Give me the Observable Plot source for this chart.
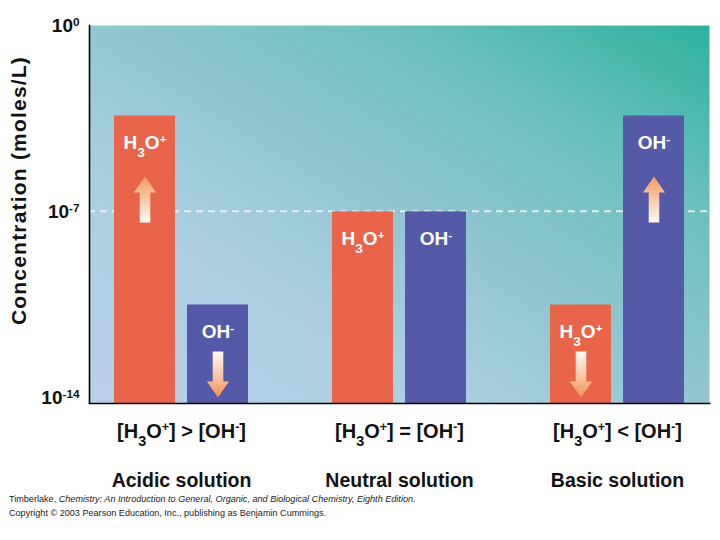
<!DOCTYPE html>
<html><head><meta charset="utf-8">
<script src="https://cdn.jsdelivr.net/npm/d3@7"></script>
<script src="https://cdn.jsdelivr.net/npm/@observablehq/plot@0.6"></script>
<style>
body{margin:0;background:#fff;}
#chart{width:720px;height:540px;position:relative;overflow:hidden;}
#chart svg{display:block;}
.foot{position:absolute;left:9px;font-family:"Liberation Sans",Arial,sans-serif;font-size:9.1px;line-height:11px;color:#1a1a1a;white-space:nowrap;}
</style></head><body>
<div id="chart"></div>
<script>
// ---- data ----
const solutions = ["Acidic solution", "Neutral solution", "Basic solution"];
const relations = ["[H₃O⁺] > [OH⁻]", "[H₃O⁺] = [OH⁻]", "[H₃O⁺] < [OH⁻]"];
const ions = ["H₃O⁺", "OH⁻"];
const h3oExponent = [-3.4, -7, -10.5];   // log10 of [H3O+] (moles/L)
const ohExponent = [-10.5, -7, -3.4];    // log10 of [OH-]  (moles/L)
const h3oArrow = ["up", null, "down"];
const ohArrow = ["down", null, "up"];
const yTicks = [1, 1e-7, 1e-14];
const yTickLabels = ["10⁰", "10⁻⁷", "10⁻¹⁴"];
const neutralLevel = 1e-7;
const yTitle = "Concentration (moles/L)";

const bars = solutions.flatMap((s, i) => [
  {solution: s, ion: ions[0], value: 10 ** h3oExponent[i], arrow: h3oArrow[i]},
  {solution: s, ion: ions[1], value: 10 ** ohExponent[i], arrow: ohArrow[i]}
]);

const yDomain = [10 ** -14.2, 1];
const FONT = "'Liberation Sans', Arial, Helvetica, sans-serif";

function arrowSymbol(dir) {
  const s = dir === "up" ? 1 : -1;
  return {
    draw(ctx, size) {
      const r = Math.sqrt(size / Math.PI);
      const hw = r * 0.48, sw = r * 0.23, hb = (-r + r * 0.7) * s;
      ctx.moveTo(0, -r * s);
      ctx.lineTo(hw, hb);
      ctx.lineTo(sw, hb);
      ctx.lineTo(sw, r * s);
      ctx.lineTo(-sw, r * s);
      ctx.lineTo(-sw, hb);
      ctx.lineTo(-hw, hb);
      ctx.closePath();
    }
  };
}

const chart = Plot.plot({
  width: 720,
  height: 492,
  marginTop: 25,
  marginLeft: 88,
  marginRight: 9,
  marginBottom: 89,
  fx: {domain: solutions, paddingInner: 0.155, paddingOuter: 0, axis: null},
  x: {domain: ions, paddingInner: 0.162, paddingOuter: 0.331, axis: null},
  y: {type: "log", domain: yDomain, axis: null},
  color: {domain: ions, range: ["#e8654b", "#5459a8"]},
  marks: [
    Plot.frame({fill: "url(#bgGrad)", facet: "super"}),
    Plot.barY(bars, {fx: "solution", x: "ion", y1: yDomain[0], y2: "value", fill: "ion"}),
    Plot.dot(bars.filter(d => d.arrow === "up"), {fx: "solution", x: "ion", y: "value", dy: 83.5, r: 23, symbol: arrowSymbol("up"), fill: "url(#upGrad)", stroke: "none"}),
    Plot.dot(bars.filter(d => d.arrow === "down"), {fx: "solution", x: "ion", y: "value", dy: 69.5, r: 23, symbol: arrowSymbol("down"), fill: "url(#downGrad)", stroke: "none"}),
    Plot.text(bars, {fx: "solution", x: "ion", y: "value", text: "ion", dy: 33, lineAnchor: "bottom", fill: "white", fontSize: 19, fontWeight: "bold", fontFamily: FONT}),
    Plot.frame({anchor: "left", stroke: "#000", strokeWidth: 1.6, facet: "super"}),
    Plot.frame({anchor: "bottom", stroke: "#000", strokeWidth: 1.6, facet: "super"}),
    Plot.text(yTicks, {fx: () => solutions[0], y: d => d, text: (d, i) => yTickLabels[i], frameAnchor: "left", dx: -10, textAnchor: "end", fontSize: 19, fontWeight: "bold", fill: "#111", fontFamily: FONT}),
    Plot.text([yTitle], {frameAnchor: "left", textAnchor: "middle", dx: -70, dy: -24, rotate: -90, fontSize: 21, fontWeight: "bold", fill: "#111", fontFamily: FONT, facet: "super", style: {letterSpacing: "1.2px"}}),
    Plot.text(solutions, {fx: d => d, text: (d, i) => relations[i], frameAnchor: "bottom", dy: 34, lineAnchor: "bottom", fontSize: 20, fontWeight: "bold", fill: "#111", fontFamily: FONT}),
    Plot.text(solutions, {fx: d => d, text: d => d, frameAnchor: "bottom", dy: 83, lineAnchor: "bottom", fontSize: 19.5, fontWeight: "bold", fill: "#111", fontFamily: FONT})
  ]
});

const svgNode = chart.tagName.toLowerCase() === "svg" ? chart : chart.querySelector("svg");
const svg = d3.select(svgNode);

// dashed neutral line across the whole frame, positioned by the plot's own y scale
const yPix = chart.scale("y").apply(neutralLevel);
const xr = chart.scale("fx").range;
const dash = d3.create("svg:line")
  .attr("x1", xr[0]).attr("x2", xr[1]).attr("y1", yPix).attr("y2", yPix)
  .attr("stroke", "#eaf3f6").attr("stroke-opacity", 0.9).attr("stroke-width", 2)
  .attr("stroke-dasharray", "7,5").node();
const bgFrame = svgNode.querySelector('[aria-label="frame"]');
bgFrame.after(dash);

// letter spacing for the rotated title
svg.selectAll("text").filter(function() { return this.textContent === yTitle; }).attr("letter-spacing", "1.2");

// gradients
const defs = svg.insert("defs", ":first-child");
function lin(id, x1, y1, x2, y2, stops) {
  const g = defs.append("linearGradient").attr("id", id)
    .attr("x1", x1).attr("y1", y1).attr("x2", x2).attr("y2", y2);
  stops.forEach(([o, c]) => g.append("stop").attr("offset", o).attr("stop-color", c));
}
lin("bgGrad", 0, 1, 1, 0, [[0, "#bccfea"], [0.3, "#aacfe0"], [0.5, "#93c6d2"], [0.75, "#6cc0c0"], [1, "#2db19e"]]);
lin("upGrad", 0, 0, 0, 1, [[0, "#f39a62"], [0.45, "#f8c4a2"], [1, "#fffaf6"]]);
lin("downGrad", 0, 0, 0, 1, [[0, "#fffaf6"], [0.55, "#f8c4a2"], [1, "#f3904f"]]);

// real super/subscripts
const SUP = {"⁰":"0","¹":"1","²":"2","³":"3","⁴":"4","⁵":"5","⁶":"6","⁷":"7","⁸":"8","⁹":"9","⁺":"+","⁻":"-"};
const SUB = {"₃":"3"};
function kindOf(c) { return SUP[c] ? "sup" : SUB[c] ? "sub" : "n"; }
function enrich(el) {
  const chars = [...el.textContent];
  if (!chars.some(c => kindOf(c) !== "n")) return;
  el.textContent = "";
  let i = 0;
  while (i < chars.length) {
    const k = kindOf(chars[i]);
    let run = "";
    while (i < chars.length && kindOf(chars[i]) === k) {
      run += k === "sup" ? SUP[chars[i]] : k === "sub" ? SUB[chars[i]] : chars[i];
      i++;
    }
    if (k === "n") el.appendChild(document.createTextNode(run));
    else {
      const ts = document.createElementNS("http://www.w3.org/2000/svg", "tspan");
      ts.setAttribute("baseline-shift", k === "sup" ? "super" : "sub");
      ts.setAttribute("font-size", k === "sup" ? "62%" : "72%");
      ts.textContent = run;
      el.appendChild(ts);
    }
  }
}
svg.selectAll("text").each(function() {
  const spans = this.querySelectorAll("tspan");
  if (spans.length) spans.forEach(enrich); else enrich(this);
});

document.getElementById("chart").appendChild(chart);
const f1 = document.createElement("div");
f1.className = "foot"; f1.style.top = "494px";
f1.innerHTML = "Timberlake, <i>Chemistry: An Introduction to General, Organic, and Biological Chemistry, Eighth Edition</i>.";
const f2 = document.createElement("div");
f2.className = "foot"; f2.style.top = "508px";
f2.textContent = "Copyright © 2003 Pearson Education, Inc., publishing as Benjamin Cummings.";
document.getElementById("chart").appendChild(f1);
document.getElementById("chart").appendChild(f2);
</script>
</body></html>
